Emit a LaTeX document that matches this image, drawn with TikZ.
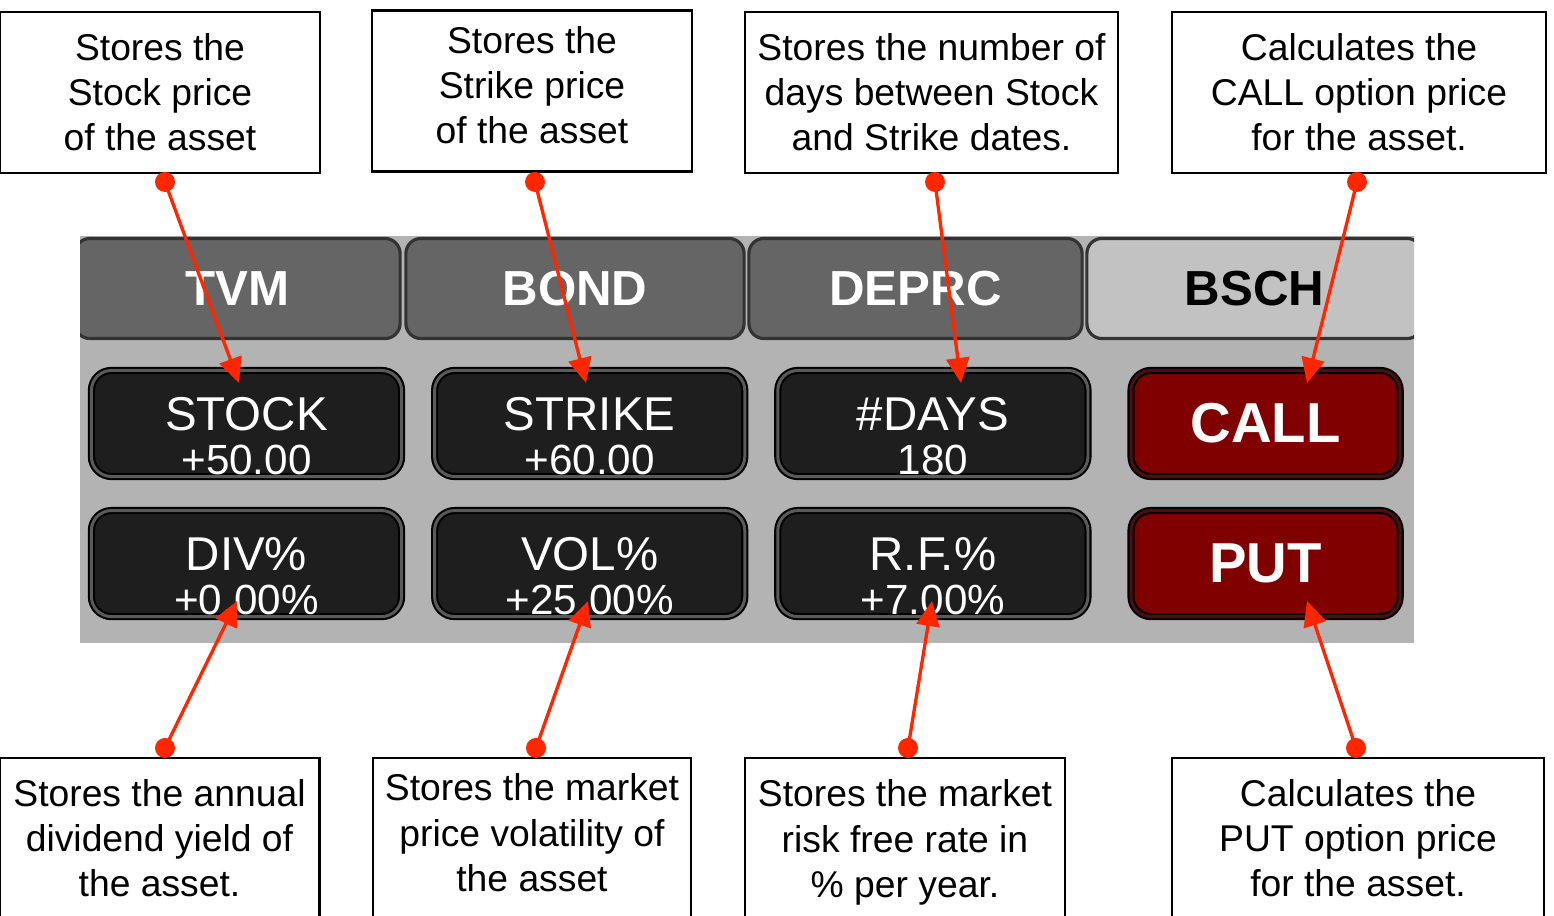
\documentclass[tikz,border=0pt]{standalone}
\usepackage{fontspec}
\setmainfont{Liberation Sans}
\usetikzlibrary{arrows.meta}
\usetikzlibrary{positioning}

\definecolor{panelgray}{HTML}{B3B3B3}
\definecolor{tabdark}{HTML}{656565}
\definecolor{tablight}{HTML}{C2C2C2}
\definecolor{keyblack}{HTML}{1E1E1E}
\definecolor{keyring}{HTML}{5A5A5A}
\definecolor{keyred}{HTML}{800000}
\definecolor{hotring}{HTML}{4A1010}
\definecolor{pointred}{HTML}{FF2600}

\begin{document}
\begin{tikzpicture}[x=0.01cm,y=-0.01cm,
		note/.style={draw=black, line width=0.75pt, fill=white, align=center, inner sep=0pt, minimum height=1.61cm, font=\fontsize{10.6}{12.8}\selectfont},
		tab/.style={draw=black!80, line width=0.9pt, rounded corners=0.15cm, minimum height=1.00cm, inner sep=0pt, outer sep=0pt, font=\fontsize{14}{16}\selectfont\bfseries},
		key/.style={draw=black, line width=0.6pt, double=keyring, double distance=0.85pt, rounded corners=0.2cm, fill=keyblack, minimum width=3.10cm, minimum height=1.06cm, inner sep=0pt, outer sep=0pt},
		hotkey/.style={key, double=hotring, fill=keyred, minimum width=2.69cm, text=white, font=\fontsize{16}{18}\selectfont\bfseries},
		keyname/.style={text=white, inner sep=0pt, font=\fontsize{13.5}{15}\selectfont},
		keyval/.style={text=white, inner sep=0pt, font=\fontsize{12}{14}\selectfont},
		pin/.style={circle, fill=pointred, inner sep=0pt, minimum size=0.2cm},
		pointer/.style={draw=pointred, line width=0.95pt, -{Triangle[length=0.25cm, width=0.23cm]}}
	]
		\useasboundingbox (0,0) rectangle (1554,916);
		\clip (0,0) rectangle (1554,916);

		% calculator panel
		\node[fill=panelgray, minimum width=13.34cm, minimum height=4.07cm, inner sep=0pt] (panel) at (747,439.5) {};
		\begin{scope}
			\clip (80,236) rectangle (1414,643);
			\node[tab, fill=tabdark, text=white, minimum width=3.25cm] (tvm) at (237.5,288.5) {TVM};
			\node[tab, fill=tabdark, text=white, minimum width=3.38cm] (bond) at (575,288.5) {BOND};
			\node[tab, fill=tabdark, text=white, minimum width=3.33cm] (deprc) at (915.5,288.5) {DEPRC};
			\node[tab, fill=tablight, text=black, minimum width=3.35cm] (bsch) at (1254.5,288.5) {BSCH};
		\end{scope}

		% keys
		\node[key] (stock) at (246.5,423.5) {};
		\node[key, right=0.33cm of stock] (strike) {};
		\node[key, right=0.33cm of strike] (days) {};
		\node[hotkey, right=0.43cm of days] (call) {CALL};
		\node[key, below=0.34cm of stock] (div) {};
		\node[key, below=0.34cm of strike] (vol) {};
		\node[key, below=0.34cm of days] (rf) {};
		\node[hotkey, below=0.34cm of call] (put) {PUT};

		\node[keyname] (stock-n) at ([yshift=0.095cm]stock.center) {STOCK};
		\node[keyval] (stock-v) at ([yshift=-0.365cm]stock.center) {+50.00};
		\node[keyname] (strike-n) at ([yshift=0.095cm]strike.center) {STRIKE};
		\node[keyval] (strike-v) at ([yshift=-0.365cm]strike.center) {+60.00};
		\node[keyname] (days-n) at ([yshift=0.095cm]days.center) {\#DAYS};
		\node[keyval] (days-v) at ([yshift=-0.365cm]days.center) {180};
		\node[keyname] (div-n) at ([yshift=0.095cm]div.center) {DIV\%};
		\node[keyval] (div-v) at ([yshift=-0.365cm]div.center) {+0.00\%};
		\node[keyname] (vol-n) at ([yshift=0.095cm]vol.center) {VOL\%};
		\node[keyval] (vol-v) at ([yshift=-0.365cm]vol.center) {+25.00\%};
		\node[keyname] (rf-n) at ([yshift=0.095cm]rf.center) {R.F.\%};
		\node[keyval] (rf-v) at ([yshift=-0.365cm]rf.center) {+7.00\%};

		% callouts above
		\node[note, minimum width=3.20cm] (note-stock) at (160,92.5) {Stores the\\Stock price\\of the asset};
		\node[note, minimum width=3.20cm, text depth=0.12cm] (note-strike) at (532,91) {Stores the\\Strike price\\of the asset};
		\node[note, minimum width=3.73cm] (note-days) at (931.5,92.5) {Stores the number of\\days between Stock\\and Strike dates.};
		\node[note, minimum width=3.74cm] (note-call) at (1359,92.5) {Calculates the\\CALL option price\\for the asset.};

		% callouts below
		\node[note, minimum width=3.20cm] (note-div) at (159.5,838.5) {Stores the annual\\dividend yield of\\the asset.};
		\node[note, minimum width=3.18cm, text depth=0.12cm] (note-vol) at (532,838.5) {Stores the market\\price volatility of\\the asset};
		\node[note, minimum width=3.20cm, text depth=0pt] (note-rf) at (905,838.5) {Stores the market\\risk free rate in\\\% per year.};
		\node[note, minimum width=3.72cm] (note-put) at (1358,838.5) {Calculates the\\PUT option price\\for the asset.};

		% pointer ends
		\coordinate (stock-tip) at (239,383);
		\coordinate (strike-tip) at (586,383);
		\coordinate (days-tip) at (961,383);
		\coordinate (call-tip) at (1307,383);
		\coordinate (div-tip) at (237,601);
		\coordinate (vol-tip) at (588,601);
		\coordinate (rf-tip) at (932,601);
		\coordinate (put-tip) at (1307,601);

		\node[pin] (pin-stock) at (165,182) {};
		\node[pin] (pin-strike) at (535,182) {};
		\node[pin] (pin-days) at (935,182) {};
		\node[pin] (pin-call) at (1357,182) {};
		\node[pin] (pin-div) at (165,748) {};
		\node[pin] (pin-vol) at (536,748) {};
		\node[pin] (pin-rf) at (908,748) {};
		\node[pin] (pin-put) at (1356,748) {};

		\draw[pointer] (pin-stock.center) -- (stock-tip);
		\draw[pointer] (pin-strike.center) -- (strike-tip);
		\draw[pointer] (pin-days.center) -- (days-tip);
		\draw[pointer] (pin-call.center) -- (call-tip);
		\draw[pointer] (pin-div.center) -- (div-tip);
		\draw[pointer] (pin-vol.center) -- (vol-tip);
		\draw[pointer] (pin-rf.center) -- (rf-tip);
		\draw[pointer] (pin-put.center) -- (put-tip);
\end{tikzpicture}
\end{document}
